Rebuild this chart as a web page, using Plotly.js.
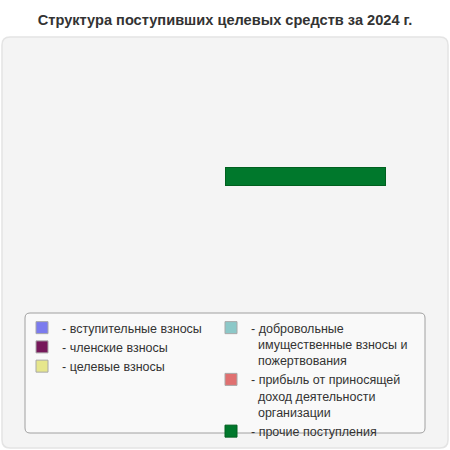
<!DOCTYPE html>
<html>
<head>
<meta charset="utf-8">
<script src="https://cdn.plot.ly/plotly-3.0.1.min.js"></script>
<style>
  html, body { margin: 0; padding: 0; background: #fff; }
  #chart { width: 450px; height: 450px; }
</style>
</head>
<body>
<div id="chart"></div>
<script>
// Статьи поступлений и их доли
var categories = [
  '- вступительные взносы',
  '- членские взносы',
  '- целевые взносы',
  '- добровольные<br>\u00a0\u00a0имущественные взносы и<br>\u00a0\u00a0пожертвования',
  '- прибыль от приносящей<br>\u00a0\u00a0доход деятельности<br>\u00a0\u00a0организации',
  '- прочие поступления'
];
var values = [0, 0, 0, 0, 0, 100];
var colors = ['#7b7bee', '#76185a', '#e6e68c', '#8cc8c8', '#e07070', '#00782c'];
var legendOf = ['legend', 'legend', 'legend', 'legend2', 'legend2', 'legend2'];

var W = 450, H = 450;
function px(x) { return x / W; }
function py(y) { return 1 - y / H; }

// rounded rectangle in paper coords, from pixel box
function roundRect(x0, y0, x1, y1, r) {
  var rx = r / W, ry = r / H;
  var a = px(x0), b = px(x1), t = py(y0), u = py(y1);
  return 'M' + (a + rx) + ',' + t +
    ' L' + (b - rx) + ',' + t + ' Q' + b + ',' + t + ' ' + b + ',' + (t - ry) +
    ' L' + b + ',' + (u + ry) + ' Q' + b + ',' + u + ' ' + (b - rx) + ',' + u +
    ' L' + (a + rx) + ',' + u + ' Q' + a + ',' + u + ' ' + a + ',' + (u + ry) +
    ' L' + a + ',' + (t - ry) + ' Q' + a + ',' + t + ' ' + (a + rx) + ',' + t + ' Z';
}

var traces = categories.map(function(name, i) {
  return {
    type: 'bar',
    orientation: 'h',
    name: name,
    x: [values[i]],
    y: [0],
    width: 1,
    legend: legendOf[i],
    marker: {
      color: colors[i],
      line: { color: values[i] ? '#00601f' : '#a8a8a8', width: 1 }
    }
  };
});

var legendFont = { family: 'Liberation Sans, Arial, sans-serif', size: 12.5, color: '#333' };

var layout = {
  width: W,
  height: H,
  margin: { l: 0, r: 0, t: 0, b: 0 },
  paper_bgcolor: '#ffffff',
  plot_bgcolor: 'rgba(0,0,0,0)',
  barmode: 'stack',
  showlegend: true,
  title: {
    text: '<b>Структура поступивших целевых средств за 2024 г.</b>',
    font: { family: 'Liberation Sans, Arial, sans-serif', size: 14.6, color: '#333' },
    x: 0.5, xanchor: 'center',
    y: py(20), yref: 'container', yanchor: 'middle'
  },
  xaxis: { visible: false, range: [-140.6, 140.6], fixedrange: true },
  yaxis: { visible: false, range: [-15.17, 9.83], fixedrange: true },
  legend: {
    x: px(22), y: py(313), xanchor: 'left', yanchor: 'top',
    bgcolor: 'rgba(0,0,0,0)', borderwidth: 0, valign: 'top',
    font: legendFont, traceorder: 'normal', itemwidth: 30
  },
  legend2: {
    x: px(211), y: py(313), xanchor: 'left', yanchor: 'top',
    bgcolor: 'rgba(0,0,0,0)', borderwidth: 0, valign: 'top',
    font: legendFont, traceorder: 'normal', itemwidth: 30
  },
  shapes: [
    { type: 'path', xref: 'paper', yref: 'paper', layer: 'below',
      path: roundRect(2, 37, 448, 448, 8),
      fillcolor: '#f4f4f4', line: { color: '#e4e4e4', width: 1.5 } },
    { type: 'path', xref: 'paper', yref: 'paper', layer: 'below',
      path: roundRect(25, 313, 425, 433, 5),
      fillcolor: '#f9f9f9', line: { color: '#a0a0a0', width: 1 } }
  ]
};

Plotly.newPlot('chart', traces, layout, { staticPlot: true, displayModeBar: false });
</script>
</body>
</html>
